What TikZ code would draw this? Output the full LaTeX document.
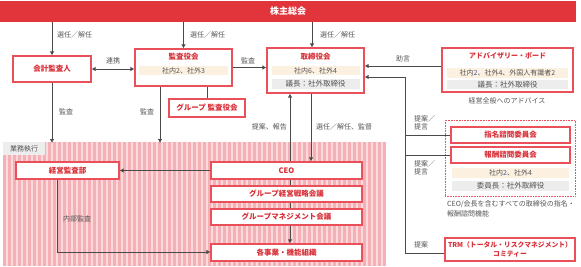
\documentclass[tikz,border=0pt]{standalone}
\usepackage{fontspec}
\newfontfamily\jp{Noto Sans CJK JP}
\usetikzlibrary{arrows.meta}
\definecolor{barred}{HTML}{E2353B}
\definecolor{boxred}{HTML}{E9505A}
\definecolor{txtred}{HTML}{D92F37}
\definecolor{beige}{HTML}{FCF0E0}
\definecolor{lgray}{HTML}{EDEDED}
\definecolor{txtgray}{HTML}{555555}
\definecolor{linegray}{HTML}{4A4A4A}
\definecolor{pinkbase}{HTML}{FADADC}
\definecolor{pinkstripe}{HTML}{F4B0B5}
\definecolor{numblue}{HTML}{3B5BA9}
\tikzset{
  box/.style={draw=boxred, line width=1.1pt, fill=white, inner sep=0pt, text=txtred, font=\jp\bfseries\fontsize{7.5}{9}\selectfont},
  ttl/.style={inner sep=0pt, text=txtred, font=\jp\bfseries\fontsize{7.5}{9}\selectfont},
  strip/.style={fill=beige, inner sep=0pt, text=txtgray, font=\jp\fontsize{7}{8}\selectfont},
  gstrip/.style={fill=lgray, inner sep=0pt, text=txtgray, font=\jp\fontsize{7.5}{8}\selectfont},
  lbl/.style={text=txtgray, inner sep=0pt, font=\jp\fontsize{7}{8.5}\selectfont},
  conn/.style={draw=linegray, line width=1pt},
  arr/.style={conn, -{Latex[length=4pt,width=4.5pt]}},
  darr/.style={conn, {Latex[length=4pt,width=4.5pt]}-{Latex[length=4pt,width=4.5pt]}}
}
\begin{document}
\begin{tikzpicture}[x=1pt,y=-1pt]
\useasboundingbox[fill=white] (0,0) rectangle (581,266);

% execution area
\fill[pinkbase] (3,142) rectangle (385,266);
\foreach \i in {0,...,76} \fill[pinkstripe] ({3+\i*5},142) rectangle ({3+\i*5+2.5},266);
\node[fill=lgray, minimum width=42, minimum height=13, lbl] (gyomu) at (24,148.5) {業務執行};

% top bar
\node[fill=barred, minimum width=576, minimum height=21, inner sep=0pt, text=white, font=\jp\bfseries\fontsize{9}{10}\selectfont] (sh) at (288,11.5) {株主総会};

% boxes
\node[box, minimum width=78, minimum height=26] (kaikei) at (52,69) {会計監査人};

\node[box, minimum width=97, minimum height=37] (kansa) at (183.5,67.5) {};
\node[ttl] (kansaT) at (183.5,57) {監査役会};
\node[strip, minimum width=89, minimum height=9] (kansaS) at (183.5,70.5) {社内2、社外3};

\node[box, minimum width=97, minimum height=45] (tori) at (315.5,70.5) {};
\node[ttl] (toriT) at (315.5,57) {取締役会};
\node[strip, minimum width=88, minimum height=9] (toriS) at (315.5,70.5) {社内6、社外4};
\node[gstrip, minimum width=88, minimum height=10] (toriG) at (315.5,84) {議長：社外取締役};

\node[box, minimum width=76, minimum height=18] (gkansa) at (207,108) {グループ 監査役会};

\node[box, minimum width=131, minimum height=44] (adv) at (507.5,70) {};
\node[ttl, font=\jp\bfseries\fontsize{7}{8}\selectfont] (advT) at (507.5,55.5) {アドバイザリー・ボード};
\node[strip, minimum width=121, minimum height=10] (advS) at (507.5,73) {社内{\color{numblue}2}、社外4、外国人有識者2};
\node[gstrip, minimum width=121, minimum height=9.5] (advG) at (507.5,84.5) {議長：社外取締役};
\node[lbl] (advN) at (507,101) {経営全般へのアドバイス};

% execution boxes
\node[box, minimum width=103, minimum height=17] (keiei) at (67.5,170.5) {経営監査部};
\node[box, minimum width=151, minimum height=17] (ceo) at (286.5,170.5) {CEO};
\node[box, minimum width=151, minimum height=16] (senryaku) at (286.5,194) {グループ経営戦略会議};
\node[box, minimum width=151, minimum height=16] (mgmt) at (286.5,217) {グループマネジメント会議};
\node[box, minimum width=151, minimum height=17] (jigyo) at (286.5,252.5) {各事業・機能組織};

% committees
\node[draw=boxred, densely dotted, line width=0.6pt, minimum width=130, minimum height=76, inner sep=0pt] (cbox) at (510,158) {};
\node[box, minimum width=119, minimum height=16] (shimei) at (510.5,135) {指名諮問委員会};
\node[box, minimum width=119, minimum height=16] (houshu) at (510.5,155) {報酬諮問委員会};
\node[strip, minimum width=117, minimum height=10] (cS) at (510.5,173) {社内{\color{numblue}2}、社外4};
\node[gstrip, minimum width=117, minimum height=10] (cG) at (510.5,186) {委員長：社外取締役};
\node[lbl, anchor=west] (cN1) at (447,204) {CEO/会長を含むすべての取締役の指名・};
\node[lbl, anchor=west] (cN2) at (447,214) {報酬諮問機能};

\node[box, minimum width=130, minimum height=23, align=center, font=\jp\bfseries\fontsize{6.8}{9}\selectfont] (trm) at (510,249.5) {TRM（トータル・リスクマネジメント）\\コミティー};

% helper coordinates
\coordinate (c1) at (312,0);
\coordinate (yadv) at (0,66);
\coordinate (vx) at (405,77);
\coordinate (vb) at (405,253);
\coordinate (atop) at (0,143);
\coordinate (kx) at (160,0);
\coordinate (cx1) at (290,0);
\coordinate (cx2) at (311,0);
\coordinate (kb) at (57,252);

% connectors from top bar
\draw[arr] (sh.south -| kaikei) -- (kaikei.north);
\draw[arr] (sh.south -| kansa) -- (kansa.north);
\draw[arr] (sh.south -| c1) -- (tori.north -| c1);
\node[lbl, anchor=west] at (57,35) {選任／解任};
\node[lbl, anchor=west] at (190,35) {選任／解任};
\node[lbl, anchor=west] at (320,35) {選任／解任};

\draw[darr] (kaikei.east) -- (kansa.west |- kaikei.east);
\node[lbl] at (113,61) {連携};
\draw[arr] (kansa.east) -- (tori.west |- kansa.east);
\node[lbl] at (248,61) {監査};

\draw[arr] (adv.west |- yadv) -- (tori.east |- yadv);
\node[lbl] at (403,59) {助言};
\draw[arr] (vx) -- (tori.east |- vx);
\draw[conn] (vx) -- (vb) -- (trm.west |- vb);
\draw[conn] (vx |- shimei.west) -- (shimei.west);
\draw[conn] (vx |- houshu.west) -- (houshu.west);
\node[lbl, anchor=west, align=left] at (414,123) {提案／\\提言};
\node[lbl, anchor=west, align=left] at (414,168) {提案／\\提言};
\node[lbl, anchor=west] at (414,245) {提案};

\draw[conn] (kansa.south -| gkansa) -- (gkansa.north);
\draw[arr] (kaikei.south) -- (kaikei.south |- atop);
\draw[arr] (kansa.south -| kx) -- (atop -| kx);
\node[lbl] at (66,112) {監査};
\node[lbl] at (147,112) {監査};

\draw[arr] (ceo.north -| cx1) -- (tori.south -| cx1);
\draw[arr] (tori.south -| cx2) -- (ceo.north -| cx2);
\node[lbl, anchor=east] at (287,127) {提案、報告};
\node[lbl, anchor=west] at (316,127) {選任／解任、監督};

\draw[conn] (ceo.south -| cx1) -- (senryaku.north -| cx1);
\draw[conn] (senryaku.south -| cx1) -- (mgmt.north -| cx1);
\draw[arr] (mgmt.south -| cx1) -- (jigyo.north -| cx1);

\draw[arr] (ceo.west) -- (keiei.east);
\draw[arr] (keiei.south -| kb) -- (kb) -- (jigyo.west |- kb);
\node[lbl] at (77,219) {内部監査};
\end{tikzpicture}
\end{document}
